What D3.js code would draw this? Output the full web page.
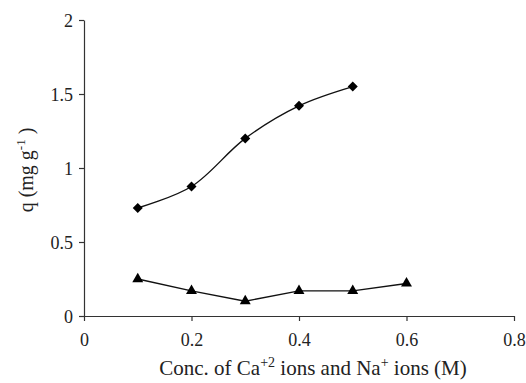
<!DOCTYPE html>
<html>
<head>
<meta charset="utf-8">
<script src="https://cdn.jsdelivr.net/npm/d3@7"></script>
<style>
  body { margin: 0; background: #fff; }
</style>
</head>
<body>
<svg id="chart"></svg>
<script>
// data
const concCa = [0.1, 0.2, 0.3, 0.4, 0.5];
const qCa = [0.73, 0.875, 1.2, 1.42, 1.55];
const concNa = [0.1, 0.2, 0.3, 0.4, 0.5, 0.6];
const qNa = [0.25, 0.17, 0.1, 0.17, 0.17, 0.22];
const xTicks = [0, 0.2, 0.4, 0.6, 0.8];
const yTicks = [0, 0.5, 1, 1.5, 2];

const FONT = 'Liberation Serif';
const width = 526, height = 383;
const margin = { top: 20, right: 12, bottom: 67, left: 84 };

const svg = d3.select('#chart')
    .attr('width', width)
    .attr('height', height)
    .attr('font-family', FONT);

const chart = svg.append('g')
    .attr('transform', `translate(${margin.left},${margin.top})`);

const innerW = width - margin.right - margin.left;
const innerH = 316 - margin.top;

const x = d3.scaleLinear().domain([0, 0.8]).range([0, innerW]);
const y = d3.scaleLinear().domain([0, 2]).range([innerH, 0]);

const fmt = d => d === 0 ? '0' : String(d);

const xAxis = chart.append('g')
    .attr('transform', `translate(0,${innerH})`)
    .call(d3.axisBottom(x).tickValues(xTicks).tickFormat(fmt).tickSize(5).tickSizeOuter(0));

const yAxis = chart.append('g')
    .call(d3.axisLeft(y).tickValues(yTicks).tickFormat(fmt).tickSize(5).tickSizeOuter(0));

[xAxis, yAxis].forEach(g => {
    g.attr('font-family', FONT).attr('font-size', 18);
    g.select('.domain').attr('stroke', '#333').attr('stroke-width', 1.2);
    g.selectAll('.tick line').attr('stroke', '#333').attr('stroke-width', 1.2);
    g.selectAll('.tick text')
        .attr('font-family', FONT)
        .attr('font-size', 18)
        .attr('fill', '#222');
});
xAxis.selectAll('.tick text').attr('y', 17).attr('dy', '0.71em');
yAxis.selectAll('.tick text').attr('x', -11).attr('dy', '0.35em');

// Ca series: smoothed line with diamonds
const caData = concCa.map((c, i) => ({ x: c, y: qCa[i] }));
const naData = concNa.map((c, i) => ({ x: c, y: qNa[i] }));

chart.append('path')
    .datum(caData)
    .attr('fill', 'none')
    .attr('stroke', '#111')
    .attr('stroke-width', 1.4)
    .attr('d', d3.line().x(d => x(d.x)).y(d => y(d.y)).curve(d3.curveCatmullRom.alpha(0.5)));

chart.selectAll('.diamond')
    .data(caData)
    .enter().append('path')
    .attr('class', 'diamond')
    .attr('transform', d => `translate(${x(d.x)},${y(d.y)})`)
    .attr('d', d3.symbol(d3.symbolDiamond2, 64))
    .attr('fill', '#000');

// Na series: straight line with triangles
chart.append('path')
    .datum(naData)
    .attr('fill', 'none')
    .attr('stroke', '#111')
    .attr('stroke-width', 1.4)
    .attr('d', d3.line().x(d => x(d.x)).y(d => y(d.y)));

chart.selectAll('.tri')
    .data(naData)
    .enter().append('path')
    .attr('class', 'tri')
    .attr('transform', d => `translate(${x(d.x)},${y(d.y)})`)
    .attr('d', d3.symbol(d3.symbolTriangle, 52))
    .attr('fill', '#000');

// axis titles
const xTitle = svg.append('text')
    .attr('x', 313)
    .attr('y', 375)
    .attr('text-anchor', 'middle')
    .attr('font-family', FONT)
    .attr('font-size', 21)
    .attr('fill', '#222');
xTitle.append('tspan').text('Conc. of Ca');
xTitle.append('tspan').attr('dy', -8).attr('font-size', 14).text('+2');
xTitle.append('tspan').attr('dy', 8).text(' ions and Na');
xTitle.append('tspan').attr('dy', -8).attr('font-size', 14).text('+');
xTitle.append('tspan').attr('dy', 8).text(' ions (M)');

const yTitle = svg.append('text')
    .attr('transform', 'translate(33,170) rotate(-90)')
    .attr('text-anchor', 'middle')
    .attr('font-family', FONT)
    .attr('font-size', 20)
    .attr('fill', '#222');
yTitle.append('tspan').text('q (mg g');
yTitle.append('tspan').attr('dy', -8).attr('font-size', 13).text('-1');
yTitle.append('tspan').attr('dy', 8).text(' )');
</script>
</body>
</html>
